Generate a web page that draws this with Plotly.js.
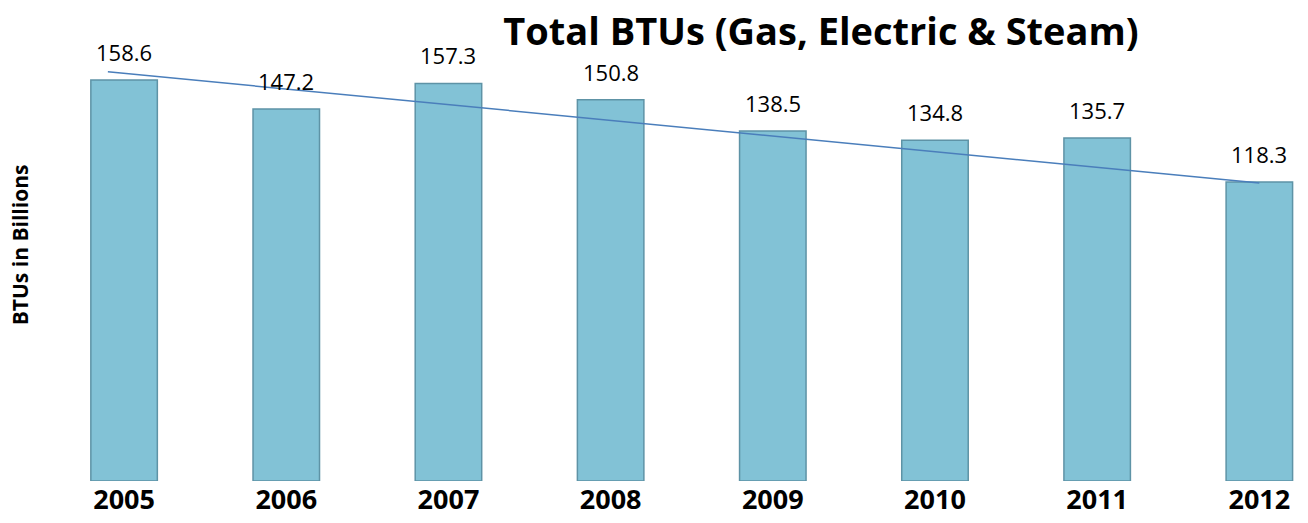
<!DOCTYPE html>
<html>
<head>
<meta charset="utf-8">
<script src="https://cdn.plot.ly/plotly-3.0.1.min.js"></script>
<style>html,body{margin:0;padding:0;background:#fff;}#chart{width:1308px;height:523px;}</style>
</head>
<body>
<div id="chart"></div>
<script>
const years = ["2005","2006","2007","2008","2009","2010","2011","2012"];
const btus = [158.6, 147.2, 157.3, 150.8, 138.5, 134.8, 135.7, 118.3];
const labels = ["158.6","147.2","157.3","150.8","138.5","134.8","135.7","118.3"];
// trend line end points (category index, value)
const trendX = [-0.1, 7.0];
const trendY = [161.9, 117.9];

const FONT = "Open Sans, Lato, sans-serif";

const bars = {
  type: "bar",
  x: years.map((_, i) => i),
  y: btus,
  marker: {color: "#82C2D6", line: {color: "#5E93A6", width: 1.5}},
  hoverinfo: "x+y",
  showlegend: false
};
const trend = {
  type: "scatter",
  mode: "lines",
  x: trendX,
  y: trendY,
  line: {color: "#4A7EBB", width: 1.5},
  showlegend: false,
  hoverinfo: "skip"
};

const annotations = btus.map((v, i) => ({
  x: i, y: v, xref: "x", yref: "y",
  text: labels[i], showarrow: false,
  yanchor: "middle", yshift: 28,
  font: {family: FONT, size: 22, color: "#000"}
}));
annotations.push({
  xref: "paper", yref: "paper", x: 0, y: 0.49,
  xanchor: "center", yanchor: "middle", xshift: -23,
  text: "<b>BTUs in Billions</b>", textangle: -90, showarrow: false,
  font: {family: FONT, size: 21, color: "#000"}
});

const layout = {
  width: 1308, height: 523,
  margin: {l: 43, r: 0, t: 0, b: 42},
  paper_bgcolor: "#fff", plot_bgcolor: "#fff",
  bargap: 0.59,
  title: {
    text: "<b>Total BTUs (Gas, Electric & Steam)</b>",
    x: 0.615, xanchor: "center", xref: "paper",
    y: 0.94, yanchor: "middle", yref: "container",
    font: {family: FONT, size: 38, color: "#000"}
  },
  xaxis: {
    range: [-0.5, 7.3],
    tickmode: "array",
    tickvals: years.map((_, i) => i),
    ticktext: years.map(y => "<b>" + y + "</b>"),
    tickfont: {family: FONT, size: 27, color: "#000"},
    showgrid: false, zeroline: false, showline: false, ticks: "",
    ticklen: 0
  },
  yaxis: {
    range: [0, 190.3],
    showgrid: false, zeroline: false, showline: false,
    showticklabels: false, ticks: ""
  },
  annotations: annotations
};

Plotly.newPlot("chart", [bars, trend], layout, {displayModeBar: false, staticPlot: true});
</script>
</body>
</html>
